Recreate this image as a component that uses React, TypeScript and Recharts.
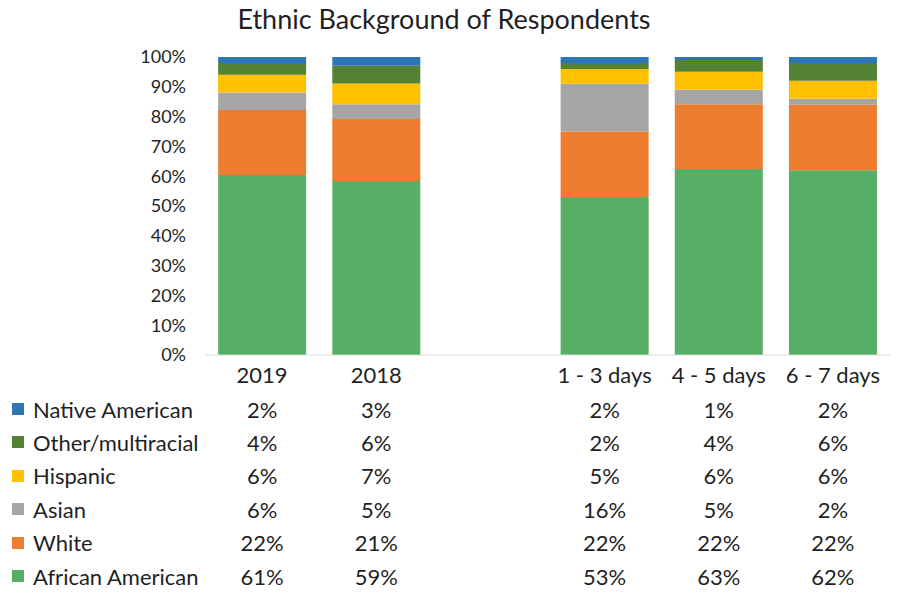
import { BarChart, Bar, XAxis, YAxis } from 'recharts';

const categories = ['2019', '2018', '', '1 - 3 days', '4 - 5 days', '6 - 7 days'];
const nativeAmerican = [2, 3, null, 2, 1, 2];
const otherMulti = [4, 6, null, 2, 4, 6];
const hispanic = [6, 7, null, 5, 6, 6];
const asian = [6, 5, null, 16, 5, 2];
const white = [22, 21, null, 22, 22, 22];
const africanAmerican = [61, 59, null, 53, 63, 62];
const yTicks = [0, 0.1, 0.2, 0.3, 0.4, 0.5, 0.6, 0.7, 0.8, 0.9, 1];

// top row of the table first, like the reference
const series = [
  { key: 'na', name: 'Native American', color: '#2e75b6', values: nativeAmerican },
  { key: 'other', name: 'Other/multiracial', color: '#548235', values: otherMulti },
  { key: 'hisp', name: 'Hispanic', color: '#ffc000', values: hispanic },
  { key: 'asian', name: 'Asian', color: '#a5a5a5', values: asian },
  { key: 'white', name: 'White', color: '#ed7d31', values: white },
  { key: 'aa', name: 'African American', color: '#57ae65', values: africanAmerican },
];

const data = categories.map((name, i) => {
  const row: Record<string, unknown> = { name };
  series.forEach((s) => {
    if (s.values[i] != null) row[s.key] = s.values[i];
  });
  return row;
});

const FONT = 'Lato, "Open Sans", sans-serif';
const TEXT = '#1f1f1f';
const ROW0 = 409;
const ROW_STEP = 33.4;

function TableTick(props: any) {
  const { x, y, payload } = props;
  const i = categories.indexOf(payload.value);
  if (i < 0 || payload.value === '') return null;
  const base = y - 363;
  return (
    <g fontFamily={FONT} fontSize={22} fill={TEXT} textAnchor='middle'>
      <text x={x} y={374 + base} dominantBaseline='central'>
        {payload.value}
      </text>
      {series.map((s, r) => (
        <text
          key={s.key}
          x={x}
          y={ROW0 + r * ROW_STEP + base}
          dominantBaseline='central'
        >
          {s.values[i]}%
        </text>
      ))}
    </g>
  );
}

export default function App() {
  return (
    <div
      style={{
        position: 'absolute',
        left: 0,
        top: 0,
        width: 898,
        height: 596,
        background: '#fff',
        fontFamily: FONT,
      }}
    >
      <div
        style={{
          position: 'absolute',
          left: 0,
          top: 2,
          width: 888,
          textAlign: 'center',
          fontSize: 27,
          color: TEXT,
        }}
      >
        Ethnic Background of Respondents
      </div>
      <BarChart
        width={898}
        height={596}
        data={data}
        stackOffset='expand'
        barCategoryGap='11.5%'
        margin={{ top: 57, right: 8, bottom: 0, left: 145 }}
      >
        <XAxis
          dataKey='name'
          height={241}
          tickLine={false}
          axisLine={{ stroke: '#d9d9d9' }}
          interval={0}
          tick={<TableTick />}
        />
        <YAxis
          width={60}
          domain={[0, 1]}
          ticks={yTicks}
          axisLine={false}
          tickLine={false}
          tickMargin={13}
          tickFormatter={(v: number) => `${Math.round(v * 100)}%`}
          tick={{ fontSize: 18, fill: TEXT, fontFamily: FONT }}
        />
        {series
          .slice()
          .reverse()
          .map((s) => (
            <Bar
              key={s.key}
              dataKey={s.key}
              name={s.name}
              stackId='a'
              fill={s.color}
              isAnimationActive={false}
            />
          ))}
      </BarChart>
      {series.map((s, r) => (
        <div
          key={s.key}
          style={{
            position: 'absolute',
            left: 12,
            top: ROW0 + r * ROW_STEP - 13,
            height: 26,
            display: 'flex',
            alignItems: 'center',
            fontSize: 22,
            color: TEXT,
          }}
        >
          <span
            style={{
              width: 12,
              height: 12,
              background: s.color,
              marginRight: 9,
              display: 'inline-block',
            }}
          />
          {s.name}
        </div>
      ))}
    </div>
  );
}
